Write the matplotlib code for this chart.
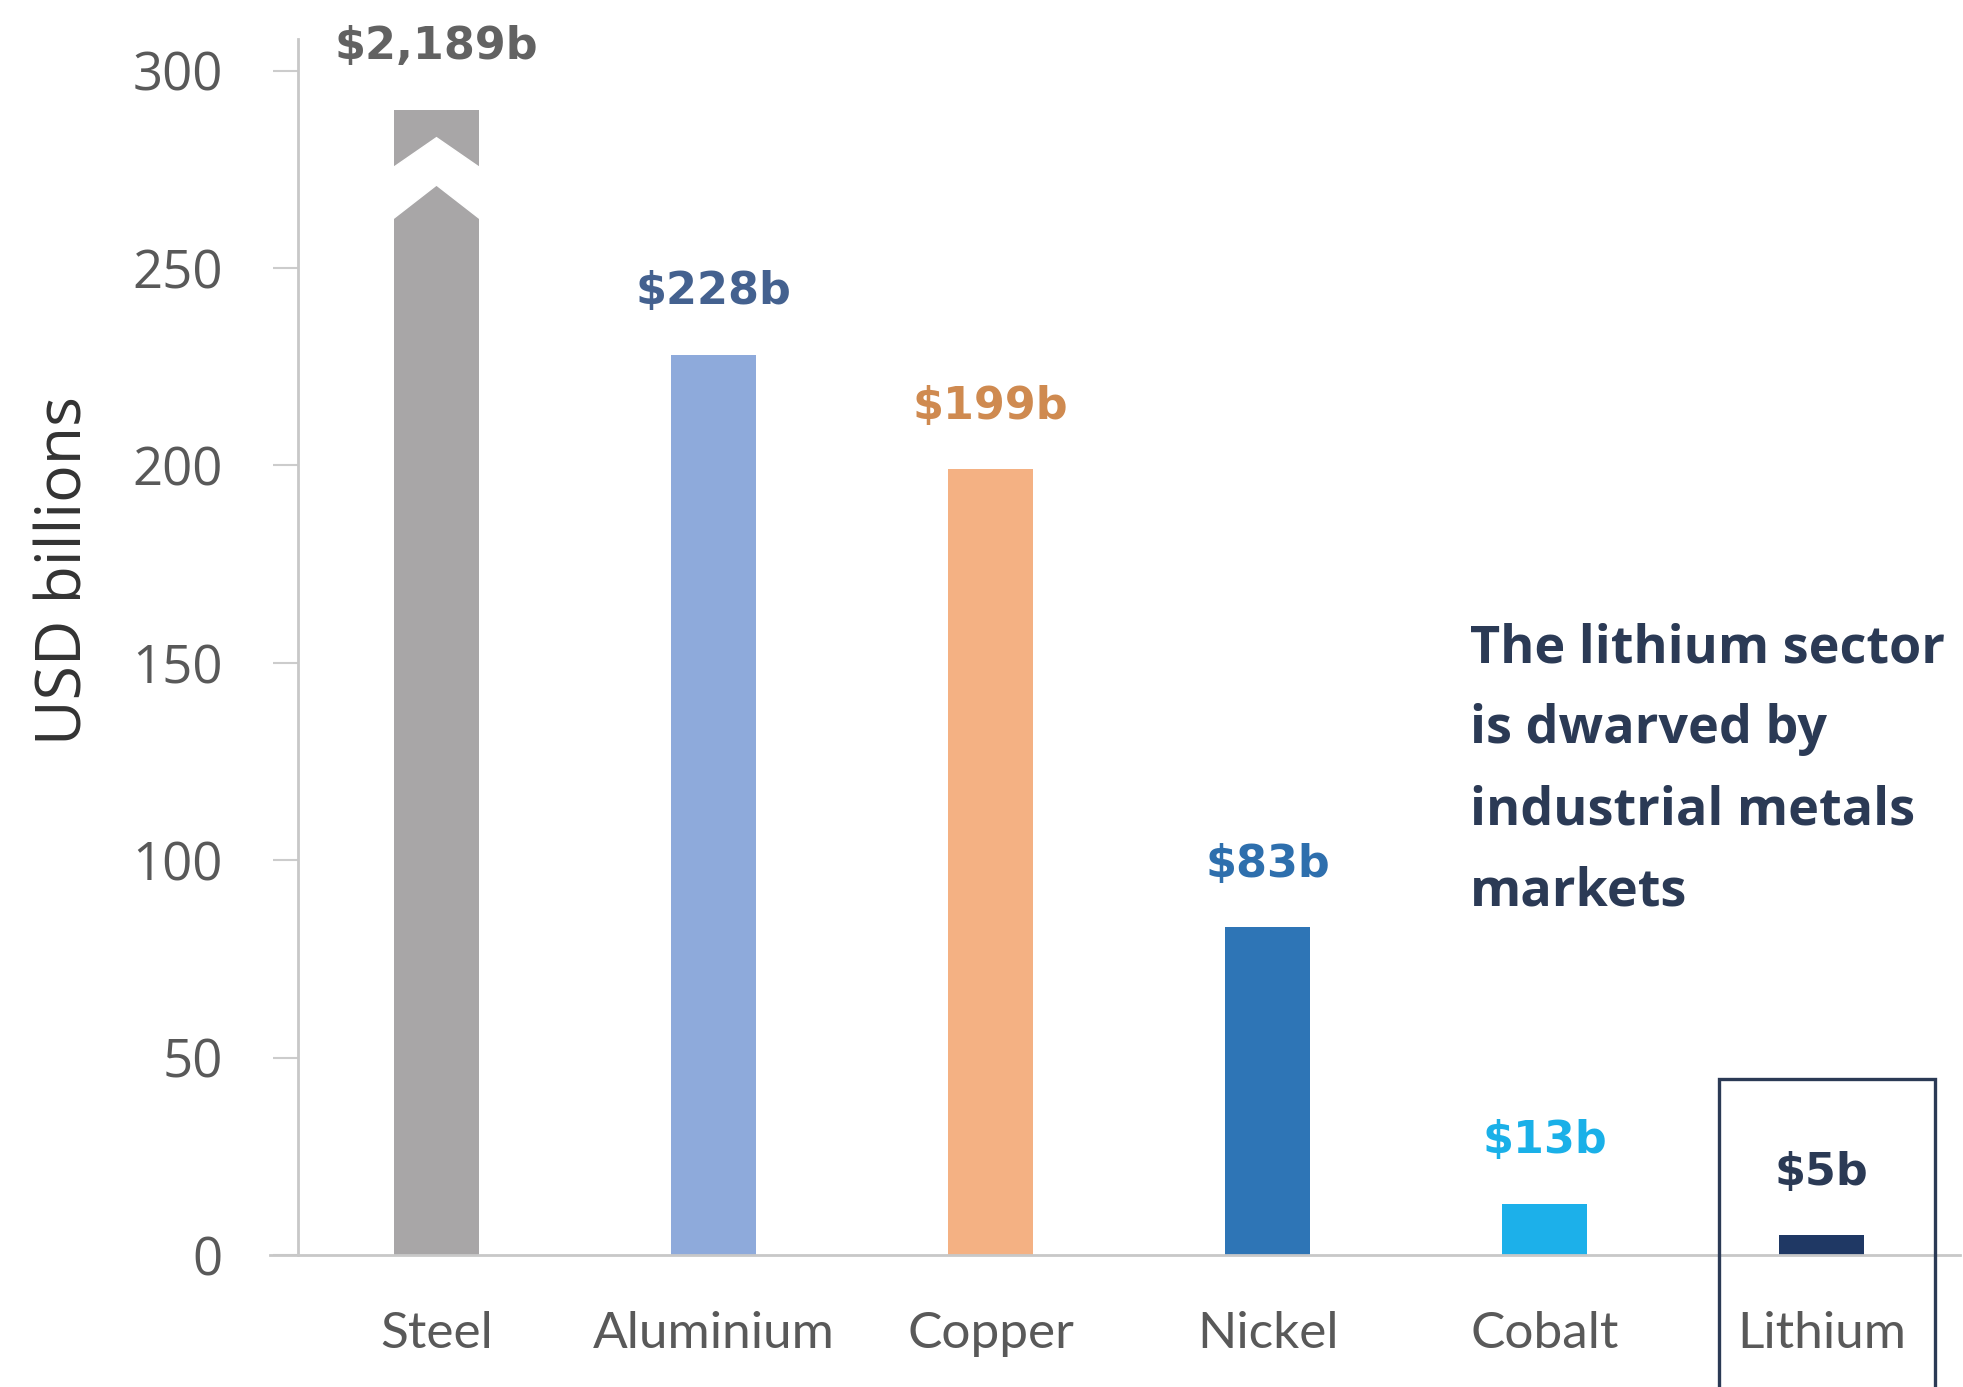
import matplotlib.pyplot as plt
from matplotlib.patches import Polygon, Rectangle

# data
metals = ['Steel', 'Aluminium', 'Copper', 'Nickel', 'Cobalt', 'Lithium']
market_size = [2189, 228, 199, 83, 13, 5]          # USD billions
axis_cap = 290                                      # steel bar is cut at this height
labels = ['$2,189b', '$228b', '$199b', '$83b', '$13b', '$5b']
bar_colors = ['#a8a6a7', '#8eaadb', '#f4b183', '#2e75b6', '#1cb0ea', '#1f3864']
label_colors = ['#626262', '#44618f', '#cf8a50', '#2e6fad', '#1ab0e8', '#2b3a55']
yticks = [0, 50, 100, 150, 200, 250, 300]
note_lines = ['The lithium sector', 'is dwarved by', 'industrial metals', 'markets']

heights = [min(v, axis_cap) for v in market_size]
x = list(range(len(metals)))
bar_w = 0.31

fig = plt.figure(figsize=(19.63, 13.87), dpi=100)
ax = fig.add_axes([0.1518, 0.0952, 0.8467, 0.8767])

bars = ax.bar(x, heights, width=bar_w, color=bar_colors, zorder=2)

# break mark on the steel bar (white chevron)
cx = x[0]
l, r = cx - bar_w / 2 - 0.01, cx + bar_w / 2 + 0.01
ax.add_patch(Polygon([(l, 262), (cx, 271), (r, 262), (r, 275), (cx, 283), (l, 275)],
                     closed=True, color='white', zorder=3))

for xi, h, lab, c in zip(x, heights, labels, label_colors):
    ax.text(xi, h + 16, lab, ha='center', va='center', color=c,
            fontsize=32, fontweight='bold', family='DejaVu Sans', clip_on=False)

# note text, one line at a time
for i, line in enumerate(note_lines):
    ax.text(3.73, 153.5 - i * 20.5, line, ha='left', va='center', color='#2b3a55',
            fontsize=37.5, fontweight='bold', family='Open Sans')

# box around lithium
ax.add_patch(Rectangle((4.63, -60), 0.78, 104.6, fill=False, edgecolor='#2b3a55',
                       linewidth=2.4, clip_on=False, zorder=4))

ax.set_xlim(-0.5, 5.5)
ax.set_ylim(0, 308)
ax.set_yticks(yticks)
ax.set_xticks(x)
ax.set_xticklabels(metals, family='Lato', fontsize=37, color='#595959')
ax.tick_params(axis='x', length=0, pad=40)
ax.tick_params(axis='y', length=18, width=1.5, color='#cccccc', pad=36,
               labelsize=38, labelcolor='#595959')
for t in ax.get_yticklabels():
    t.set_family('Open Sans')

ax.set_ylabel('USD billions', fontsize=45, color='#333333', family='Open Sans')
ax.yaxis.set_label_coords(-0.121, 0.5625)

for s in ['top', 'right']:
    ax.spines[s].set_visible(False)
ax.spines['left'].set_color('#c8c8c8')
ax.spines['left'].set_linewidth(2)
ax.spines['bottom'].set_color('#c8c8c8')
ax.spines['bottom'].set_linewidth(2)
ax.spines['bottom'].set_bounds(-0.6, 5.5)

plt.savefig('out.png', dpi=100)
